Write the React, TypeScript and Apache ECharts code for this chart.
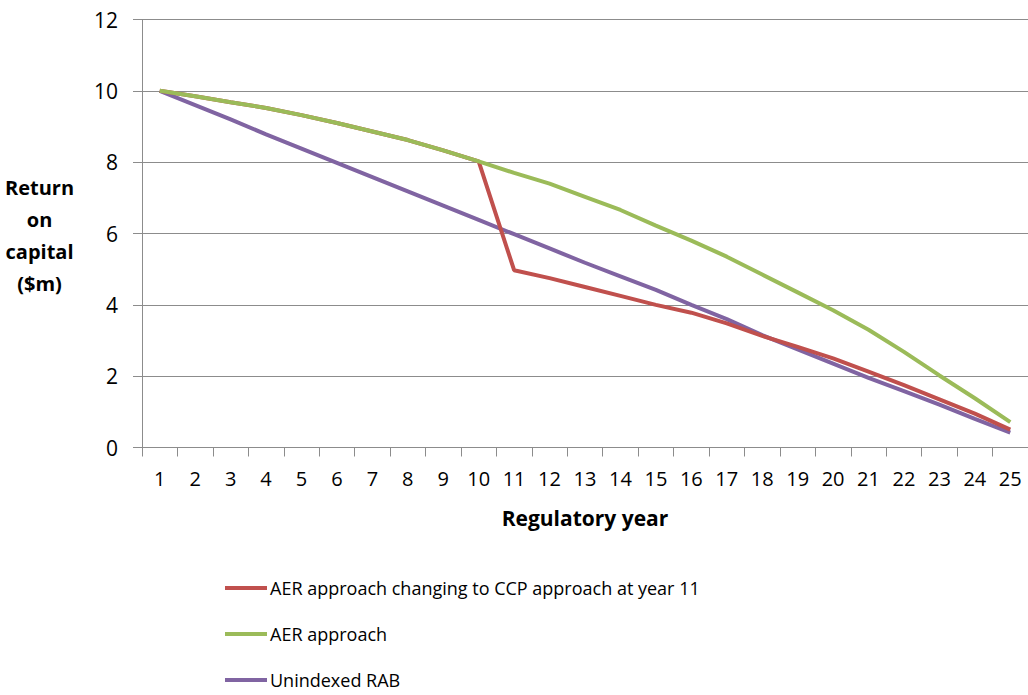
import React, { useEffect, useRef } from "react";
import * as echarts from "echarts";

const years = ["1","2","3","4","5","6","7","8","9","10","11","12","13","14","15","16","17","18","19","20","21","22","23","24","25"];
const aerToCcp = [10, 9.85, 9.68, 9.52, 9.32, 9.1, 8.86, 8.62, 8.33, 8.02, 4.97, 4.75, 4.5, 4.25, 4.0, 3.78, 3.48, 3.13, 2.82, 2.5, 2.13, 1.75, 1.35, 0.95, 0.5];
const aer = [10, 9.85, 9.68, 9.52, 9.32, 9.1, 8.86, 8.62, 8.33, 8.02, 7.7, 7.4, 7.03, 6.66, 6.22, 5.8, 5.35, 4.85, 4.35, 3.85, 3.3, 2.68, 2.02, 1.38, 0.71];
const unindexed = [10, 9.6, 9.2, 8.78, 8.38, 7.98, 7.58, 7.18, 6.78, 6.38, 5.98, 5.58, 5.18, 4.8, 4.42, 4.0, 3.6, 3.15, 2.75, 2.35, 1.95, 1.58, 1.2, 0.8, 0.42];
const seriesNames = ["AER approach changing to CCP approach at year 11", "AER approach", "Unindexed RAB"];
const colors = ["#C0504D", "#9BBB59", "#8064A2"];

const FONT = "'Open Sans', sans-serif";

export default function App() {
  const ref = useRef<HTMLDivElement>(null);
  useEffect(() => {
    document.body.style.margin = "0";
    const chart = echarts.init(ref.current!, null, { renderer: "svg" });
    const gray = "#8C8C8C";
    chart.setOption({
      animation: false,
      backgroundColor: "#ffffff",
      textStyle: { fontFamily: FONT },
      grid: { left: 142, top: 19.5, width: 889, height: 428, containLabel: false },
      legend: {
        orient: "vertical",
        left: 220,
        top: 574,
        itemWidth: 42,
        itemHeight: 4,
        itemGap: 28,
        icon: "rect",
        textStyle: { fontFamily: FONT, fontSize: 18, color: "#000", padding: [0, 0, 0, -2] },
        data: seriesNames,
      },
      graphic: [
        {
          type: "text",
          left: 5,
          top: 171,
          style: {
            text: "Return\non\ncapital\n($m)",
            x: 40,
            textAlign: "center",
            font: `bold 20px ${FONT}`,
            lineHeight: 32,
            fill: "#000",
          },
        },
      ],
      xAxis: {
        type: "category",
        data: years,
        boundaryGap: true,
        name: "Regulatory year",
        nameLocation: "middle",
        nameGap: 60,
        nameTextStyle: { fontFamily: FONT, fontSize: 21, fontWeight: "bold", color: "#000" },
        axisLine: { lineStyle: { color: gray, width: 1 } },
        axisTick: { show: true, length: 9, lineStyle: { color: gray } },
        axisLabel: { fontFamily: FONT, fontSize: 20, color: "#000", margin: 21, interval: 0 },
        splitLine: { show: false },
      },
      yAxis: {
        type: "value",
        min: 0,
        max: 12,
        interval: 2,
        axisLine: { show: true, lineStyle: { color: gray, width: 1 } },
        axisTick: { show: true, length: 9, lineStyle: { color: gray } },
        axisLabel: { fontFamily: FONT, fontSize: 21, color: "#000", margin: 24 },
        splitLine: { show: true, lineStyle: { color: gray, width: 1 } },
      },
      series: [
        { name: seriesNames[0], type: "line", data: aerToCcp, showSymbol: false, symbol: "none", lineStyle: { width: 4, color: colors[0] }, itemStyle: { color: colors[0] }, z: 3 },
        { name: seriesNames[1], type: "line", data: aer, showSymbol: false, symbol: "none", lineStyle: { width: 4, color: colors[1] }, itemStyle: { color: colors[1] }, z: 4 },
        { name: seriesNames[2], type: "line", data: unindexed, showSymbol: false, symbol: "none", lineStyle: { width: 4, color: colors[2] }, itemStyle: { color: colors[2] }, z: 2 },
      ],
    });
    return () => chart.dispose();
  }, []);
  return <div ref={ref} style={{ width: 1028, height: 695 }} />;
}
